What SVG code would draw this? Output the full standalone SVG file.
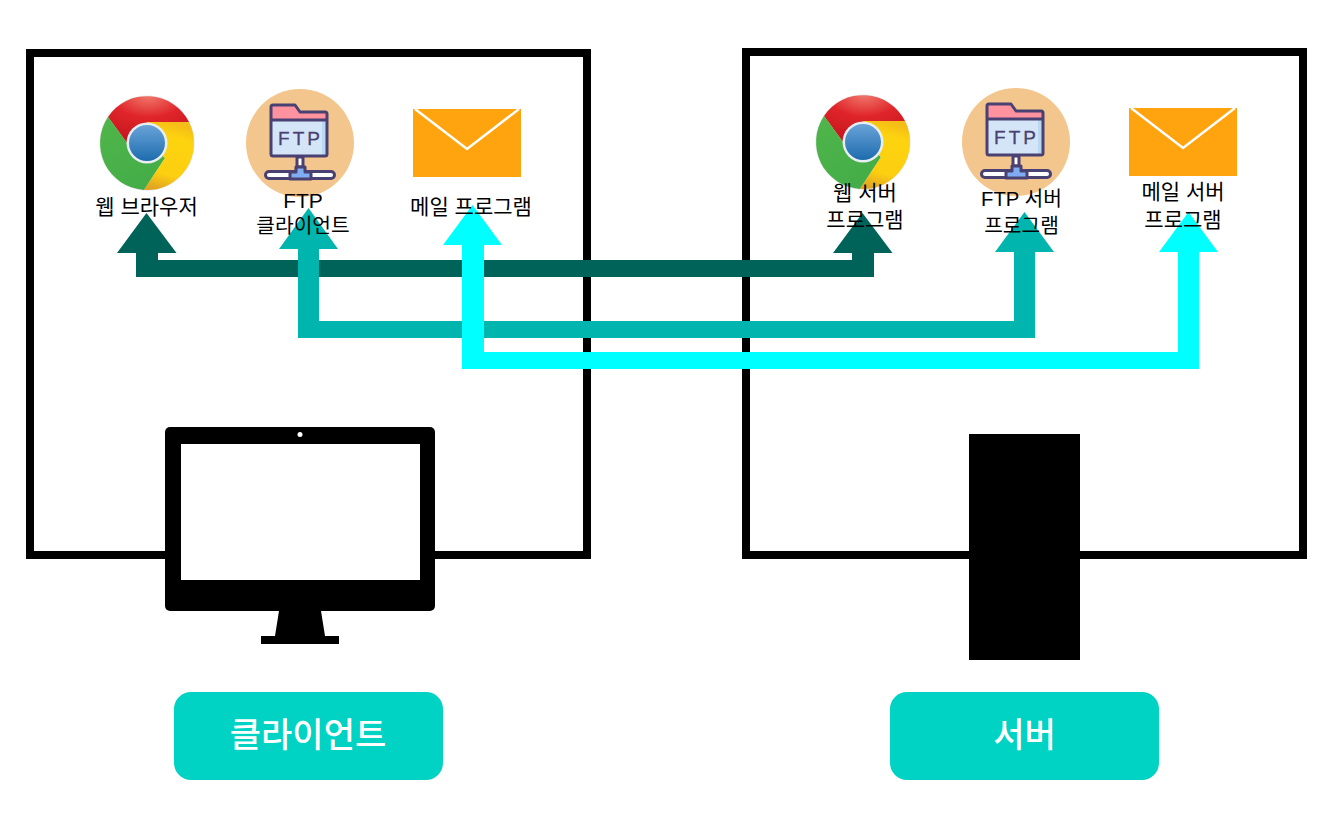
<svg xmlns="http://www.w3.org/2000/svg" xmlns:xlink="http://www.w3.org/1999/xlink" width="1339" height="836" viewBox="0 0 1339 836">
<style>
text{font-family:"Liberation Sans","Noto Sans CJK KR",sans-serif}
.lb{font-size:21px;fill:#000;text-anchor:middle}
.sm{font-size:20.300px}
.bt{font-size:34px;fill:#fff;text-anchor:middle;font-weight:500}
.box{fill:none;stroke:#000;stroke-width:8}
.pill{fill:#00d2c4}
.ftpline{stroke:#4a4173;stroke-width:3;stroke-linejoin:round}
</style>
<defs>
<radialGradient id="rg" cx="0.5" cy="0" r="0.9"><stop offset="0" stop-color="#f0776a"/><stop offset="0.5" stop-color="#e0252a"/><stop offset="1" stop-color="#c8181e"/></radialGradient>
<linearGradient id="gg" x1="0" y1="0" x2="0.6" y2="1"><stop offset="0" stop-color="#4eb649"/><stop offset="1" stop-color="#45ad48"/></linearGradient>
<linearGradient id="yg" x1="0.5" y1="0" x2="0.3" y2="1"><stop offset="0" stop-color="#f5bd17"/><stop offset="0.2" stop-color="#fdd30f"/><stop offset="0.75" stop-color="#fccf10"/><stop offset="1" stop-color="#dfa422"/></linearGradient>
<linearGradient id="bg" x1="0" y1="0" x2="0" y2="1"><stop offset="0" stop-color="#6aa3d8"/><stop offset="1" stop-color="#1d6cae"/></linearGradient>
<g id="chrome">
<circle cx="0" cy="0" r="47.500" fill="#bdbdbd" opacity="0.4"/>
<path d="M-39-26A47 47 0 0 1 42-21L0-21V0H-20Z" fill="url(#rg)"/>
<path d="M-39-26A47 47 0 0 0-3 47L18 15L0 0H-20Z" fill="url(#gg)"/>
<path d="M42-21A47 47 0 0 1-3 47L18 15L0 0V-21Z" fill="url(#yg)"/>
<circle cx="0" cy="0" r="20.500" fill="#e8eef2"/>
<circle cx="0" cy="0" r="18" fill="url(#bg)"/>
</g>
<g id="ftp">
<circle cx="0" cy="0" r="54" fill="#f2c68d"/>
<path d="M-29-23H27V13H-29Z" fill="#d4e5f8"/>
<rect x="22" y="-23" width="5" height="36" fill="#b8d8f3"/>
<path d="M-29-23V-36Q-29-38-27-38H-5L0-31H25Q27-31 27-29V-23Z" fill="#fe929f"/>
<path class="ftpline" fill="none" d="M-29-23H27M-27-38H-5L0-31H25Q27-31 27-29V11Q27 13 25 13H-27Q-29 13-29 11V-36Q-29-38-27-38Z"/>
<rect class="ftpline" x="-3" y="14" width="6" height="10" fill="#fff"/>
<rect class="ftpline" x="-34.500" y="28.500" width="69" height="7" rx="3.500" fill="#fff"/>
<path class="ftpline" d="M-4 24H5V29H11V36H-10V29H-4Z" fill="#7eaef1"/>
<text x="0.500" y="2" font-size="19" fill="#4a4173" stroke="#4a4173" stroke-width="0.300" text-anchor="middle" letter-spacing="3" style="font-family:'Liberation Sans',sans-serif">FTP</text>
</g>
<g id="mail">
<rect x="0" y="0" width="108" height="68" fill="#ffa40f"/>
<path d="M2 0L54 40L106 0" fill="none" stroke="#fff" stroke-width="2.500"/>
</g>
</defs>
<rect width="1339" height="836" fill="#fff"/>
<g id="client-box"><rect class="box" x="30" y="53" width="557" height="502"/></g>
<g id="server-box"><rect class="box" x="746" y="52" width="557" height="503"/></g>
<g id="monitor">
<rect x="165" y="427" width="270" height="184" rx="5" fill="#000"/>
<rect x="181" y="444" width="239" height="136" fill="#fff"/>
<circle cx="300" cy="434.500" r="2.500" fill="#fff"/>
<path d="M279 611H321L325 636H339V644H261V636H275Z" fill="#000"/>
</g>
<g id="server"><rect x="969" y="434" width="111" height="226" fill="#000"/></g>
<g id="connectors">
<path id="web-link" fill="#00635a" d="M146.500 213L176.500 253H158V260H852V253H833L862.500 213L892.500 253H874V277H136V253H117Z"/>
<path id="ftp-link" fill="#00b5ad" d="M308.500 208L338 249H319V321H1014V252H995L1024.500 212L1054 252H1035V338H298V249H279Z"/>
<path id="mail-link" fill="#00ffff" d="M472.500 205L502 245H484V352H1178V252H1159L1188.500 212L1218 252H1199V369H462V245H443Z"/>
</g>
<g id="web-browser"><use xlink:href="#chrome" href="#chrome" x="147" y="143"/><text class="lb" x="146.500" y="214">웹 브라우저</text></g>
<g id="ftp-client"><use xlink:href="#ftp" href="#ftp" x="300" y="143"/><text class="lb" x="303" y="208">FTP</text><text class="lb sm" x="303" y="233">클라이언트</text></g>
<g id="mail-program"><use xlink:href="#mail" href="#mail" x="413" y="109"/><text class="lb" x="471" y="214">메일 프로그램</text></g>
<g id="web-server"><use xlink:href="#chrome" href="#chrome" x="863" y="142"/><text class="lb" x="865" y="200">웹 서버</text><text class="lb" x="865" y="227">프로그램</text></g>
<g id="ftp-server"><use xlink:href="#ftp" href="#ftp" x="1016" y="142"/><text class="lb sm" x="1021.500" y="206">FTP 서버</text><text class="lb sm" x="1021.500" y="232.500">프로그램</text></g>
<g id="mail-server"><use xlink:href="#mail" href="#mail" x="1129" y="108"/><text class="lb" x="1183" y="199">메일 서버</text><text class="lb" x="1183" y="227">프로그램</text></g>
<g id="client-label"><rect class="pill" x="174" y="692" width="269" height="88" rx="17"/><text class="bt" x="308" y="747">클라이언트</text></g>
<g id="server-label"><rect class="pill" x="890" y="692" width="269" height="88" rx="17"/><text class="bt" x="1024.500" y="747">서버</text></g>
</svg>
